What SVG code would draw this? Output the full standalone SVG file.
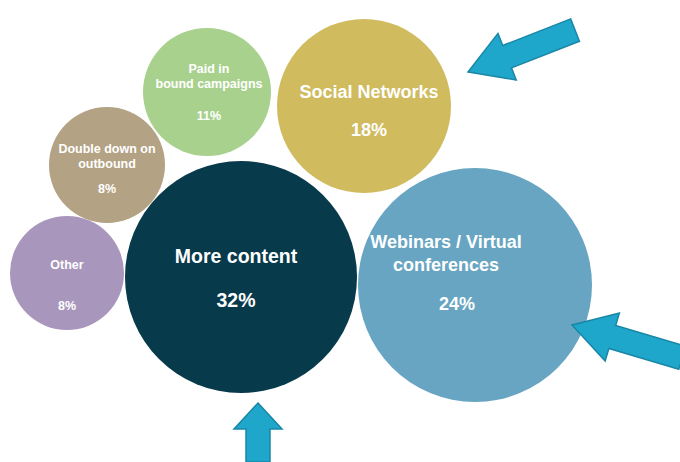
<svg xmlns="http://www.w3.org/2000/svg" width="680" height="462" viewBox="0 0 680 462">
<style>
text{font-family:"Liberation Sans",Arial,sans-serif;font-weight:bold;fill:#fff;text-anchor:middle}
.s{font-size:12.5px}.m{font-size:18px}.l{font-size:19.5px}
.arr{fill:#1ea7cb;stroke:#1a86a6;stroke-width:1.5}
</style>
<defs><polygon id="a" points="-115,-12 -42,-12 -42,-25 0,0 -42,25 -42,12 -115,12"/></defs>
<rect width="680" height="462" fill="#fff"/>
<g id="paid"><circle cx="207" cy="92" r="64" fill="#a9d18e"/><text class="s" x="209" y="73">Paid in</text><text class="s" x="209" y="88">bound campaigns</text><text class="s" x="209" y="120">11%</text></g>
<g id="social"><circle cx="364" cy="106" r="87" fill="#d0bb5e"/><text class="m" x="369" y="98">Social Networks</text><text class="m" x="369" y="136">18%</text></g>
<g id="double"><circle cx="107" cy="165" r="58" fill="#b3a283"/><text class="s" x="107" y="153">Double down on</text><text class="s" x="107" y="168">outbound</text><text class="s" x="107" y="193">8%</text></g>
<g id="other"><circle cx="67" cy="273" r="57" fill="#a996bc"/><text class="s" x="67" y="269">Other</text><text class="s" x="67" y="310">8%</text></g>
<g id="more"><circle cx="241" cy="277" r="116" fill="#073a4a"/><text class="l" x="236" y="263">More content</text><text class="l" x="236" y="307">32%</text></g>
<g id="webinars"><circle cx="475" cy="285" r="117" fill="#67a5c2"/><text class="m" x="446" y="248">Webinars / Virtual</text><text class="m" x="446" y="271">conferences</text><text class="m" x="457" y="310">24%</text></g>
<g id="connectors">
<use href="#a" class="arr" transform="translate(468,72) rotate(158.6)"/>
<use href="#a" class="arr" transform="translate(572,325) rotate(196.5)"/>
<polygon class="arr" points="258,403 282,429 270,429 270,462 246,462 246,429 234,429"/>
</g>
</svg>
